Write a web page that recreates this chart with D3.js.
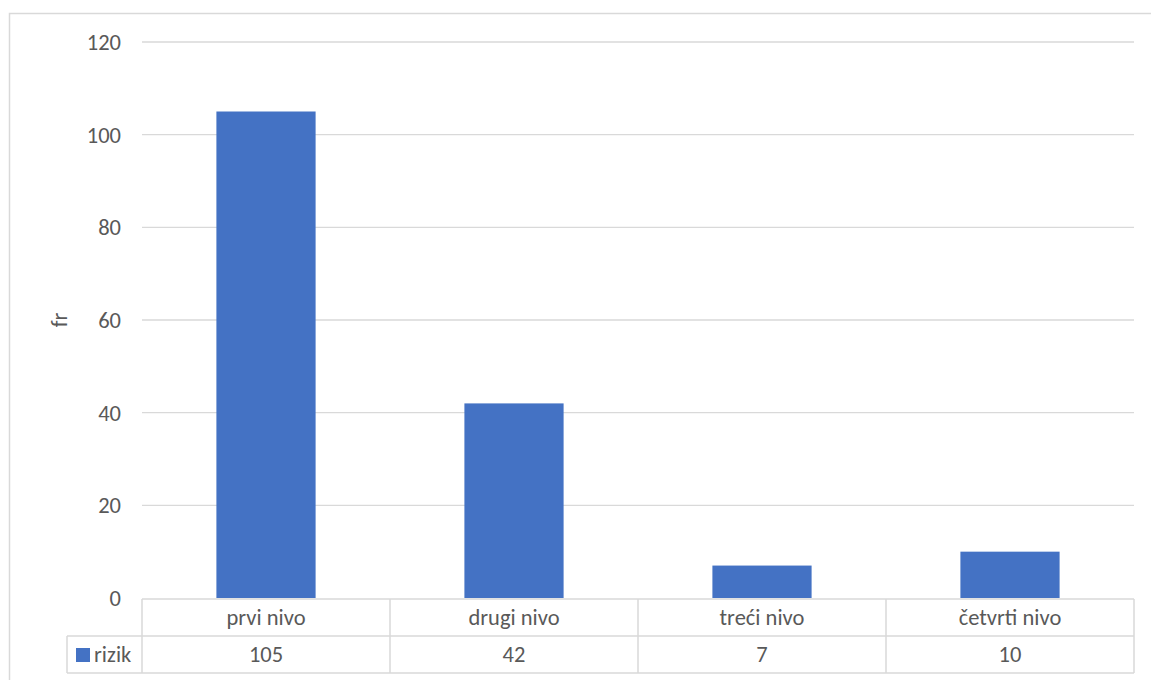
<!DOCTYPE html>
<html><head><meta charset="utf-8">
<script src="https://cdn.jsdelivr.net/npm/d3@7"></script>
<style>body{margin:0;background:#fff}text{font-family:Calibri,Carlito,Lato,sans-serif;fill:#595959}</style>
</head><body><svg id="c" width="1151" height="680"></svg>
<script>
const categories = ["prvi nivo", "drugi nivo", "treći nivo", "četvrti nivo"];
const values = [105, 42, 7, 10];
const seriesName = "rizik";
const yTicks = [0, 20, 40, 60, 80, 100, 120];
const yLabel = "fr";

const svg = d3.select("#c");
const color = "#4472C4", grid = "#d9d9d9", fs = 22.5;
svg.append("rect").attr("x",9.5).attr("y",13.5).attr("width",1150).attr("height",700)
  .attr("fill","#fff").attr("stroke","#d9d9d9").attr("stroke-width",1.5);

const x = d3.scaleBand().domain(categories).range([142,1134]).paddingInner(0.6).paddingOuter(0.3);
const y = d3.scaleLinear().domain([0,120]).range([598,42]);

svg.append("g").selectAll("line").data(yTicks.filter(d=>d>0)).join("line")
  .attr("x1",142).attr("x2",1134).attr("y1",d=>y(d)).attr("y2",d=>y(d))
  .attr("stroke",grid).attr("stroke-width",1.3);
svg.append("g").selectAll("text").data(yTicks).join("text")
  .attr("x",121).attr("y",d=>y(d)).attr("dy","0.35em").attr("text-anchor","end")
  .attr("font-size",fs).text(d=>d);
svg.append("text").attr("transform","translate(67,"+y(60)+") rotate(-90)")
  .attr("text-anchor","middle").attr("font-size",fs).text(yLabel);

svg.append("g").selectAll("rect").data(values).join("rect")
  .attr("x",(d,i)=>x(categories[i])).attr("width",x.bandwidth())
  .attr("y",d=>y(d)).attr("height",d=>y(0)-y(d)).attr("fill",color);

// data table
const step = x.step();
const left = 142, right = 1134, r0 = 599, r1 = 636, r2 = 673, lc = 67;
const tg = svg.append("g").attr("stroke",grid).attr("stroke-width",1.5).attr("fill","none");
tg.append("line").attr("x1",left).attr("x2",right).attr("y1",r0).attr("y2",r0);
tg.append("line").attr("x1",lc).attr("x2",right).attr("y1",r1).attr("y2",r1);
tg.append("line").attr("x1",lc).attr("x2",right).attr("y1",r2).attr("y2",r2);
tg.append("line").attr("x1",lc).attr("x2",lc).attr("y1",r1).attr("y2",r2);
categories.forEach((c,i)=>{
  const bx = left + i*step;
  tg.append("line").attr("x1",bx).attr("x2",bx).attr("y1",r0).attr("y2",r2);
});
tg.append("line").attr("x1",right).attr("x2",right).attr("y1",r0).attr("y2",r2);

svg.append("g").selectAll("text").data(categories).join("text")
  .attr("x",(d,i)=>left+i*step+step/2).attr("y",(r0+r1)/2).attr("dy","0.35em")
  .attr("text-anchor","middle").attr("font-size",fs).text(d=>d);
svg.append("g").selectAll("text").data(values).join("text")
  .attr("x",(d,i)=>left+i*step+step/2).attr("y",(r1+r2)/2).attr("dy","0.35em")
  .attr("text-anchor","middle").attr("font-size",fs).text(d=>d);
svg.append("rect").attr("x",76).attr("y",648).attr("width",14).attr("height",14).attr("fill",color);
svg.append("text").attr("x",94).attr("y",(r1+r2)/2).attr("dy","0.35em").attr("font-size",fs).text(seriesName);
</script></body></html>
